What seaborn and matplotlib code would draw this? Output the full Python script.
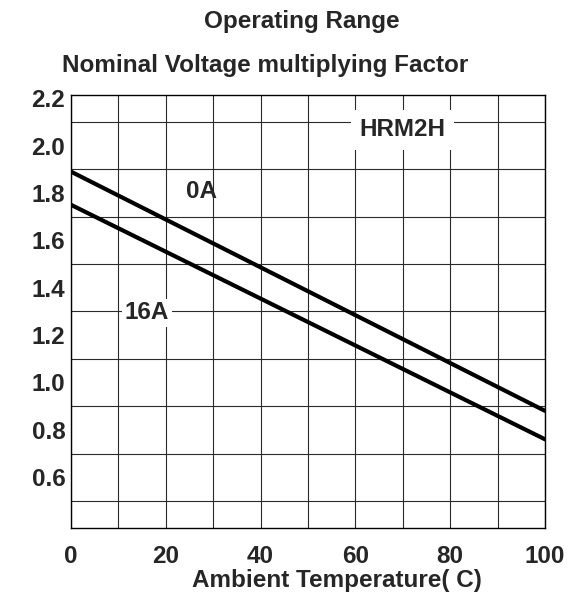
import numpy as np
import pandas as pd
import matplotlib
matplotlib.use("Agg")
import matplotlib.pyplot as plt
import seaborn as sns

# values
temperature = [0, 100]
factor_0a = [1.89, 0.88]
factor_16a = [1.75, 0.76]
x_ticks = [0, 20, 40, 60, 80, 100]
y_ticks = [0.6, 0.8, 1.0, 1.2, 1.4, 1.6, 1.8, 2.0, 2.2]

df = pd.DataFrame({
    "Temperature": temperature + temperature,
    "Factor": factor_0a + factor_16a,
    "Current": ["0A"] * 2 + ["16A"] * 2,
})

sns.set_style("white")
plt.rcParams["font.family"] = ["Liberation Sans", "DejaVu Sans"]
plt.rcParams["font.weight"] = "bold"

fs = 17.5

fig = plt.figure(figsize=(5.81, 6.04), dpi=100)
ax = fig.add_axes([0.122, 0.126, 0.816, 0.717])

sns.lineplot(data=df, x="Temperature", y="Factor", hue="Current",
             palette=["black", "black"], linewidth=3, legend=False, ax=ax)

ax.set_xlim(0, 100)
ax.set_ylim(0.386, 2.214)
ax.set_xticks(x_ticks)
ax.set_xticks(np.arange(10, 100, 20), minor=True)
ax.set_yticks(y_ticks)
ax.set_yticklabels([f"{v:.1f}" for v in y_ticks])
ax.set_yticks(np.arange(0.5, 2.2, 0.2), minor=True)

ax.grid(False)
ax.xaxis.grid(True, which="both", color="#2a2a2a", linewidth=0.8)
ax.yaxis.grid(True, which="minor", color="#2a2a2a", linewidth=0.8)
ax.tick_params(which="both", length=0)
ax.tick_params(axis="y", labelsize=fs, pad=4)
ax.tick_params(axis="x", labelsize=fs, pad=12)

for s in ax.spines.values():
    s.set_color("black")
    s.set_linewidth(1.0)

ax.set_xlabel("Ambient Temperature( C)", fontsize=fs, fontweight="bold")
ax.set_ylabel("")
ax.xaxis.set_label_coords(0.561, -0.095)

fig.text(0.52, 0.964, "Operating Range", ha="center", va="center", fontsize=fs)
fig.text(0.107, 0.891, "Nominal Voltage multiplying Factor", ha="left", va="center",
         fontsize=fs)

ax.text(27.6, 1.805, "0A", ha="center", va="center", fontsize=fs)
ax.text(16, 1.294, "16A", ha="center", va="center", fontsize=fs,
        bbox=dict(facecolor="white", edgecolor="none", pad=2))
ax.text(70, 2.066, "HRM2H", ha="center", va="center", fontsize=fs,
        bbox=dict(facecolor="white", edgecolor="none", pad=6))

fig.savefig("out.png", dpi=100)
